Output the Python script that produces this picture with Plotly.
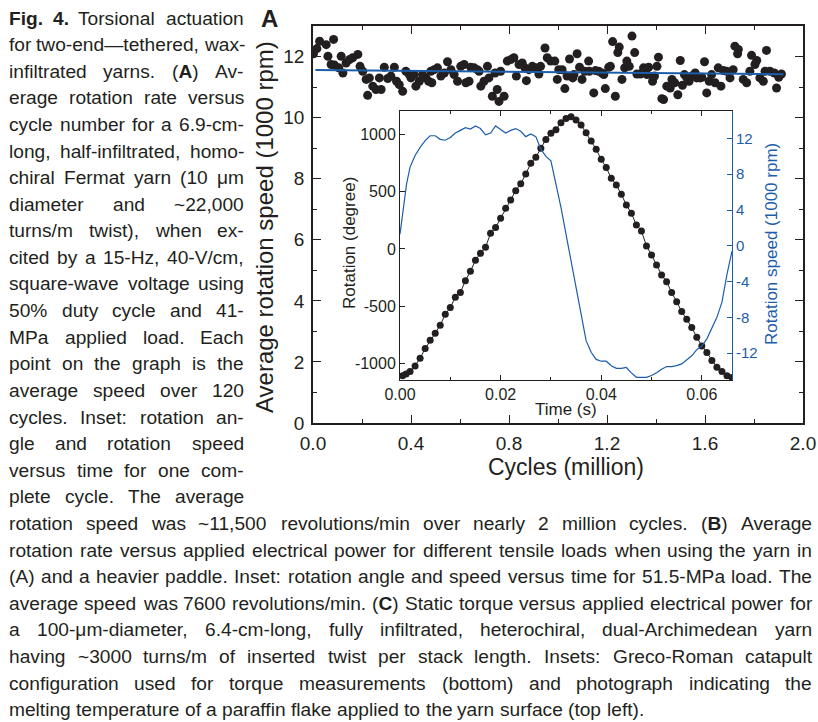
import plotly.graph_objects as go

# ---------------- data ----------------
cycles = [0.002, 0.016, 0.027, 0.054, 0.061, 0.074, 0.084, 0.088, 0.105, 0.115, 0.122, 0.135,
          0.149, 0.162, 0.183, 0.192, 0.203, 0.217, 0.223, 0.230, 0.244, 0.257, 0.271, 0.278,
          0.291, 0.305, 0.318, 0.332, 0.341, 0.352, 0.366, 0.379, 0.393, 0.400, 0.413, 0.420,
          0.434, 0.447, 0.461, 0.472, 0.481,
          0.485, 0.495, 0.508, 0.522, 0.536, 0.549, 0.563, 0.576, 0.590, 0.603, 0.617, 0.624,
          0.637, 0.644, 0.658, 0.671, 0.678, 0.685, 0.698, 0.712, 0.718, 0.732, 0.743, 0.752,
          0.759, 0.766, 0.780, 0.793, 0.807, 0.820, 0.830, 0.841, 0.854, 0.865, 0.871, 0.881,
          0.895, 0.908, 0.922, 0.929, 0.947, 0.956, 0.970,
          0.987, 0.997, 1.003, 1.017, 1.028, 1.037, 1.047, 1.060, 1.065, 1.078, 1.088, 1.098,
          1.109, 1.125, 1.128, 1.146, 1.153, 1.166, 1.180, 1.187, 1.193, 1.207, 1.214, 1.223,
          1.234, 1.244, 1.250, 1.261, 1.272, 1.281, 1.291, 1.302, 1.313, 1.322, 1.336, 1.349,
          1.363, 1.370, 1.386, 1.394, 1.404, 1.410, 1.424, 1.431, 1.444, 1.458, 1.465,
          1.476, 1.489, 1.499, 1.508, 1.516, 1.526, 1.535, 1.546, 1.560, 1.566, 1.580, 1.587,
          1.598, 1.607, 1.617, 1.627, 1.641, 1.654, 1.665, 1.675, 1.688, 1.702, 1.715, 1.722,
          1.733, 1.736, 1.756, 1.770, 1.783, 1.790, 1.804, 1.811, 1.824, 1.838, 1.845, 1.851,
          1.865, 1.883, 1.892, 1.901, 1.912]
avg_speed = [12.09, 12.26, 12.50, 12.39, 12.01, 11.74, 12.56, 11.72, 11.63, 12.01, 11.46, 11.79,
             11.90, 11.96, 12.07, 11.68, 11.52, 11.25, 10.73, 11.30, 11.03, 10.92, 11.30, 10.92,
             11.65, 11.28, 11.36, 11.65, 11.19, 11.08, 10.86, 11.52, 11.41, 11.30, 11.41, 11.03,
             11.19, 11.41, 11.30, 11.19, 11.52,
             11.14, 11.57, 11.63, 11.36, 11.46, 11.83, 11.57, 11.41, 11.19, 11.68, 11.74, 11.14,
             11.19, 11.65, 11.63, 11.57, 11.52, 11.03, 11.19, 11.68, 11.30, 10.70, 11.46, 10.92,
             10.53, 11.52, 10.70, 11.85, 11.90, 11.96, 11.36, 11.74, 11.79, 11.63, 11.21, 11.57,
             11.68, 11.63, 11.43, 11.68, 12.28, 11.96, 11.85,
             11.85, 11.25, 11.57, 11.57, 10.95, 11.36, 11.92, 11.30, 11.41, 12.09, 11.65, 11.25,
             11.52, 11.85, 11.52, 10.81, 11.54, 11.52, 11.46, 11.41, 10.95, 11.65, 11.68, 12.49,
             10.70, 12.13, 12.31, 11.25, 11.63, 11.85, 11.68, 12.67, 12.13, 11.43, 11.43, 11.63,
             11.41, 11.65, 11.19, 11.36, 11.68, 11.98, 10.62, 10.59, 11.03, 10.97, 11.25,
             11.14, 10.75, 11.87, 11.06, 11.41, 11.30, 11.19, 11.36, 11.46, 11.30, 11.30, 11.32,
             11.83, 10.81, 11.19, 11.41, 11.14, 11.63, 11.03, 11.54, 11.52, 11.30, 11.57, 12.34,
             12.09, 12.23, 11.25, 11.14, 11.52, 12.04, 11.74, 11.87, 11.30, 11.19, 11.52, 12.20,
             11.52, 11.46, 10.97, 11.32, 11.43]

fit_cycles = [0.01, 1.92]
fit_speed = [11.56, 11.42]

cycle_ticks = [0.0, 0.4, 0.8, 1.2, 1.6, 2.0]
cycle_ticklabels = ["0.0", "0.4", "0.8", "1.2", "1.6", "2.0"]

rot_time = [0.0005, 0.0012, 0.002, 0.003, 0.004, 0.005, 0.006, 0.007, 0.008, 0.009, 0.010,
            0.011, 0.012, 0.013, 0.014, 0.015, 0.016, 0.017, 0.018, 0.019, 0.020, 0.021,
            0.022, 0.023, 0.024, 0.025, 0.026, 0.027, 0.028, 0.029, 0.030, 0.031, 0.032,
            0.033, 0.034, 0.035, 0.036, 0.037, 0.038, 0.039, 0.040, 0.041, 0.042, 0.043,
            0.044, 0.045, 0.046, 0.047, 0.048, 0.049, 0.050, 0.051, 0.052, 0.053, 0.054,
            0.055, 0.056, 0.057, 0.058, 0.059, 0.060, 0.061, 0.062, 0.063, 0.064, 0.065, 0.066]
rotation_deg = [-1106, -1089, -1069, -1019, -952, -868, -796, -735, -665, -569, -511,
                -421, -380, -276, -195, -99, -38, 15, 136, 186, 267, 354,
                427, 508, 569, 653, 746, 799, 877, 955, 1008, 1040, 1100,
                1138, 1153, 1124, 1080, 1013, 941, 868, 781, 709, 616, 558,
                476, 383, 311, 209, 157, 26, -52, -139, -227, -285, -380,
                -459, -546, -613, -685, -770, -845, -903, -973, -1031, -1069, -1106, -1121]

spd_time = [0.0, 0.0007, 0.0013, 0.002, 0.003, 0.004, 0.005, 0.006, 0.007, 0.008, 0.009,
            0.010, 0.011, 0.012, 0.013, 0.014, 0.015, 0.016, 0.017, 0.018, 0.019, 0.020,
            0.021, 0.022, 0.023, 0.024, 0.025, 0.026, 0.027, 0.028, 0.029, 0.030, 0.031,
            0.032, 0.033, 0.034, 0.035, 0.036, 0.037, 0.038, 0.039, 0.040, 0.041, 0.042,
            0.043, 0.044, 0.045, 0.046, 0.047, 0.048, 0.049, 0.050, 0.051, 0.052, 0.053,
            0.054, 0.055, 0.056, 0.057, 0.058, 0.059, 0.060, 0.061, 0.062, 0.063, 0.064,
            0.065, 0.066]
rot_speed = [1.3, 4.5, 6.9, 8.8, 10.1, 11.0, 11.75, 12.3, 12.3, 11.9, 11.8,
             12.1, 12.6, 12.9, 13.2, 13.05, 13.4, 13.1, 12.4, 12.6, 13.4, 13.0,
             12.6, 12.9, 13.1, 12.8, 12.2, 12.5, 12.2, 10.8, 10.0, 9.5, 6.9,
             4.3, 1.3, -1.7, -4.7, -8.0, -10.6, -11.9, -12.7, -12.9, -12.9, -13.4,
             -13.7, -13.7, -13.6, -14.2, -14.7, -14.7, -14.7, -14.5, -14.2, -13.8, -13.5,
             -13.5, -13.4, -13.2, -12.8, -12.3, -11.6, -11.2, -10.4, -9.1, -8.0, -6.3,
             -3.2, -0.6]

rot_ticks = [-1000, -500, 0, 500, 1000]
rot_ticklabels = ["-1000", "-500", "0", "500", "1000"]
spd_ticks = [-12, -8, -4, 0, 4, 8, 12]
spd_ticklabels = ["-12", "-8", "-4", "0", "4", "8", "12"]

left_lines = [
    "<b>Fig.</b> <b>4.</b> Torsional actuation",
    "for two-end\u2014tethered, wax-",
    "infiltrated yarns. (<b>A</b>) Av-",
    "erage rotation rate versus",
    "cycle number for a 6.9-cm-",
    "long, half-infiltrated, homo-",
    "chiral Fermat yarn (10 \u03bcm",
    "diameter and ~22,000",
    "turns/m twist), when ex-",
    "cited by a 15-Hz, 40-V/cm,",
    "square-wave voltage using",
    "50% duty cycle and 41-",
    "MPa applied load. Each",
    "point on the graph is the",
    "average speed over 120",
    "cycles. Inset: rotation an-",
    "gle and rotation speed",
    "versus time for one com-",
    "plete cycle. The average",
]
full_lines = [
    "rotation speed was ~11,500 revolutions/min over nearly 2 million cycles. (<b>B</b>) Average",
    "rotation rate versus applied electrical power for different tensile loads when using the yarn in",
    "(A) and a heavier paddle. Inset: rotation angle and speed versus time for 51.5-MPa load. The",
    "average speed was 7600 revolutions/min. (<b>C</b>) Static torque versus applied electrical power for",
    "a 100-\u03bcm-diameter, 6.4-cm-long, fully infiltrated, heterochiral, dual-Archimedean yarn",
    "having ~3000 turns/m of inserted twist per stack length. Insets: Greco-Roman catapult",
    "configuration used for torque measurements (bottom) and photograph indicating the",
    "melting temperature of a paraffin flake applied to the yarn surface (top left).",
]

# ---------------- styling ----------------
BLUE = "#1c5daa"
INK = "#231f20"
FONT = "Liberation Sans, Arial, sans-serif"
CAP_FONT = "Liberation Sans, Arial, sans-serif"

W, H = 818, 722
ML, MR, MT, MB = 313, 15, 26, 299
PW = W - ML - MR
PH = H - MT - MB


def px(x):
    return (x - ML) / PW


def py(y):
    return (H - MB - y) / PH


fig = go.Figure()
fig.add_trace(go.Scatter(x=cycles, y=avg_speed, mode="markers",
                         marker=dict(size=9, color=INK), xaxis="x", yaxis="y",
                         showlegend=False, hoverinfo="skip"))
fig.add_trace(go.Scatter(x=fit_cycles, y=fit_speed, mode="lines",
                         line=dict(color=BLUE, width=2), xaxis="x", yaxis="y",
                         showlegend=False, hoverinfo="skip"))
fig.add_trace(go.Scatter(x=spd_time, y=rot_speed, mode="lines",
                         line=dict(color=BLUE, width=1.2), xaxis="x2", yaxis="y3",
                         showlegend=False, hoverinfo="skip"))
fig.add_trace(go.Scatter(x=rot_time, y=rotation_deg, mode="lines+markers",
                         line=dict(color=INK, width=1), marker=dict(size=7, color=INK),
                         xaxis="x2", yaxis="y2", showlegend=False, hoverinfo="skip"))

ix0, ix1 = px(400), px(732)
iy0, iy1 = py(380), py(110.7)

fig.update_layout(
    width=W, height=H,
    margin=dict(l=ML, r=MR, t=MT, b=MB, pad=0, autoexpand=False),
    paper_bgcolor="white", plot_bgcolor="white",
    font=dict(family=FONT, color=INK),
    xaxis=dict(domain=[0, 1], range=[0, 2.0], tickmode="array",
               tickvals=cycle_ticks, ticktext=cycle_ticklabels,
               ticks="inside", ticklen=8, tickwidth=1.2, tickcolor=INK,
               minor=dict(dtick=0.2, tick0=0, ticks="inside", ticklen=4, tickcolor=INK),
               showline=True, linecolor=INK, linewidth=1.5, mirror="ticks",
               showgrid=False, zeroline=False, tickfont=dict(size=19, color=INK),
               ticklabelstandoff=2, ticklabeloverflow="allow", automargin=False,
               anchor="y"),
    yaxis=dict(domain=[0, 1], range=[0, 13], dtick=2, tick0=0,
               ticks="inside", ticklen=8, tickwidth=1.2, tickcolor=INK,
               minor=dict(dtick=1, tick0=0, ticks="inside", ticklen=4, tickcolor=INK),
               showline=True, linecolor=INK, linewidth=1.5, mirror="ticks",
               showgrid=False, zeroline=False, tickfont=dict(size=19, color=INK),
               ticklabelstandoff=3, ticklabeloverflow="allow", automargin=False,
               anchor="x"),
    xaxis2=dict(domain=[ix0, ix1], range=[0, 0.066], dtick=0.02, tick0=0, tickformat=".2f",
                ticks="inside", ticklen=5, tickcolor=INK,
                minor=dict(dtick=0.01, tick0=0, ticks="inside", ticklen=3, tickcolor=INK),
                showline=True, linecolor=INK, linewidth=1, mirror="ticks",
                showgrid=False, zeroline=False, tickfont=dict(size=16, color=INK),
                automargin=False, anchor="y2"),
    yaxis2=dict(domain=[iy0, iy1], range=[-1142, 1205], tickmode="array",
                tickvals=rot_ticks, ticktext=rot_ticklabels,
                ticks="inside", ticklen=5, tickcolor=INK,
                showline=True, linecolor=INK, linewidth=1, mirror=False,
                showgrid=False, zeroline=False, tickfont=dict(size=16, color=INK),
                automargin=False, anchor="x2"),
    yaxis3=dict(domain=[iy0, iy1], range=[-15.0, 15.1], tickmode="array",
                tickvals=spd_ticks, ticktext=spd_ticklabels, overlaying="y2", side="right",
                ticks="inside", ticklen=5, tickcolor=BLUE,
                showline=True, linecolor=BLUE, linewidth=1,
                showgrid=False, zeroline=False, tickfont=dict(size=15, color=BLUE),
                automargin=False, anchor="x2"),
)

ann = []
# axis titles and panel label
ann.append(dict(text="Average rotation speed (1000 rpm)", x=px(264), y=py(227), textangle=-90,
                font=dict(size=24, color=INK)))
ann.append(dict(text="Cycles (million)", x=px(566), y=py(467), font=dict(size=23, color=INK)))
ann.append(dict(text="<b>A</b>", x=px(269), y=py(19), font=dict(size=24, color=INK)))
ann.append(dict(text="Rotation (degree)", x=px(349), y=py(243), textangle=-90,
                font=dict(size=17, color=INK)))
ann.append(dict(text="Time (s)", x=px(566), y=py(409), font=dict(size=17, color=INK)))
ann.append(dict(text="Rotation speed (1000 rpm)", x=px(771), y=py(244), textangle=-90,
                font=dict(size=17, color=BLUE)))
for a in ann:
    a.update(xref="paper", yref="paper", showarrow=False, xanchor="center", yanchor="middle")

# ---------------- justified caption (Arial / Liberation Sans metrics) ----------------
ARIAL = {' ': 278, '!': 278, '%': 889, '(': 333, ')': 333, ',': 278, '-': 333, '.': 278,
         '/': 278, ':': 278, '~': 584, '\u2014': 1000, '\u03bc': 576,
         'A': 667, 'B': 667, 'C': 722, 'D': 722, 'E': 667, 'F': 611, 'G': 778, 'H': 722,
         'I': 278, 'J': 500, 'K': 667, 'L': 556, 'M': 833, 'N': 722, 'O': 778, 'P': 667,
         'Q': 778, 'R': 722, 'S': 667, 'T': 611, 'U': 722, 'V': 667, 'W': 944, 'X': 667,
         'Y': 667, 'Z': 611,
         'a': 556, 'b': 556, 'c': 500, 'd': 556, 'e': 556, 'f': 278, 'g': 556, 'h': 556,
         'i': 222, 'j': 222, 'k': 500, 'l': 222, 'm': 833, 'n': 556, 'o': 556, 'p': 556,
         'q': 556, 'r': 333, 's': 500, 't': 278, 'u': 556, 'v': 500, 'w': 722, 'x': 500,
         'y': 500, 'z': 500}
BOLD_ARIAL = {'F': 611, 'i': 278, 'g': 611, '.': 278, '4': 556, 'A': 722, 'B': 722, 'C': 722}


def word_em(word):
    total = 0.0
    bold = False
    i = 0
    while i < len(word):
        if word.startswith("<b>", i):
            bold = True
            i += 3
            continue
        if word.startswith("</b>", i):
            bold = False
            i += 4
            continue
        c = word[i]
        if bold:
            total += BOLD_ARIAL.get(c, ARIAL.get(c, 556) * 1.08)
        else:
            total += ARIAL.get(c, 556)
        i += 1
    return total / 1000.0


MIN_GAP_EM = 0.24


def fit_size(line, avail):
    words = line.split(" ")
    em = sum(word_em(w) for w in words) + MIN_GAP_EM * (len(words) - 1)
    return avail / em


CAP_SIZE = min([20.0]
               + [fit_size(l, 243 - 8) for l in left_lines]
               + [fit_size(l, 811 - 8) for l in full_lines[:-1]])


def place_line(text, x0, x1, yc, justify=True):
    words = text.split(" ")
    fs = CAP_SIZE
    widths = [word_em(w) * fs for w in words]
    space = ARIAL[' '] / 1000.0 * fs
    if justify and len(words) > 1:
        gap = (x1 - x0 - sum(widths)) / (len(words) - 1)
    else:
        gap = space
    x = x0
    for w, wd in zip(words, widths):
        ann.append(dict(text=w, x=px(x), y=py(yc), xref="paper", yref="paper",
                        showarrow=False, xanchor="left", yanchor="middle", borderpad=0,
                        font=dict(family=CAP_FONT, size=fs, color=INK)))
        x += wd + gap


LINE0, LSTEP = 18, 26.6
for i, line in enumerate(left_lines):
    place_line(line, 8, 243, LINE0 + LSTEP * i, justify=True)
for j, line in enumerate(full_lines):
    k = len(left_lines) + j
    place_line(line, 8, 811, LINE0 + LSTEP * k, justify=(j < len(full_lines) - 1))

fig.update_layout(annotations=ann)

fig.write_html("out.html", config={"displayModeBar": False},
               post_script="document.body.style.margin='0';")
